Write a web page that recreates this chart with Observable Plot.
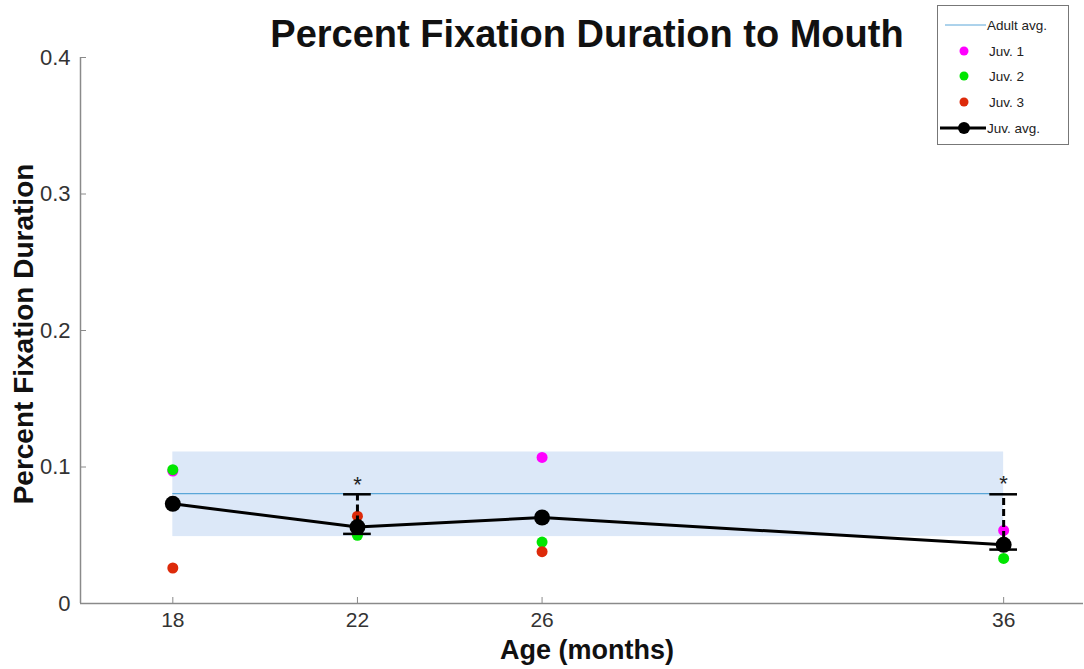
<!DOCTYPE html>
<html>
<head>
<meta charset="utf-8">
<script src="https://cdn.jsdelivr.net/npm/d3@7"></script>
<script src="https://cdn.jsdelivr.net/npm/@observablehq/plot@0.6"></script>
<style>
  html, body { margin: 0; padding: 0; background: #fff; }
  #chart { position: relative; width: 1084px; height: 669px; }
</style>
</head>
<body>
<div id="chart"></div>
<script>
// ---- data ----
const ages = [18, 22, 26, 36];
const juv1 = [0.097, 0.054, 0.107, 0.0535];
const juv2 = [0.098, 0.050, 0.045, 0.033];
const juv3 = [0.026, 0.064, 0.038, 0.0425];
const juvAvg = [0.073, 0.056, 0.063, 0.043];
const errLow = [null, 0.051, null, 0.0395];
const errHigh = [null, 0.080, null, 0.080];
const adultAvg = 0.0805;
const adultLow = 0.049;
const adultHigh = 0.111;
const sigAges = [22, 36];
const sigY = [0.0915, 0.092];
const yTicks = [0, 0.1, 0.2, 0.3, 0.4];
const xTicks = [18, 22, 26, 36];
const seriesNames = ["Adult avg.", "Juv. 1", "Juv. 2", "Juv. 3", "Juv. avg."];
const titleText = "Percent Fixation Duration to Mouth";
const xLabel = "Age (months)";
const yLabel = "Percent Fixation Duration";
const colors = {j1: "#ff00ff", j2: "#00e600", j3: "#dd2a0a", band: "#dce8f8", adult: "#5aa6d8"};

const pts = (vals) => ages.map((a, i) => ({age: a, v: vals[i]}));
const avgRows = pts(juvAvg);
const errRows = ages.map((a, i) => ({age: a, lo: errLow[i], hi: errHigh[i]})).filter(d => d.lo != null);
const capHalf = 0.3;
const font = "Liberation Sans, Arial, Helvetica, sans-serif";

const plot = Plot.plot({
  width: 1084,
  height: 669,
  marginLeft: 80,
  marginRight: 1,
  marginTop: 57,
  marginBottom: 66,
  style: {fontFamily: font, background: "#fff"},
  x: {domain: [16, 37.73], ticks: xTicks},
  y: {domain: [0, 0.4], ticks: yTicks},
  marks: [
    // adult band
    Plot.rectY([{x1: ages[0], x2: ages[ages.length - 1]}], {x1: "x1", x2: "x2", y1: adultLow, y2: adultHigh, fill: colors.band}),
    Plot.ruleY([adultAvg], {x1: ages[0], x2: ages[ages.length - 1], stroke: colors.adult, strokeWidth: 1.2}),
    // individual juveniles
    Plot.dot(pts(juv1), {x: "age", y: "v", r: 5.5, fill: colors.j1}),
    Plot.dot(pts(juv2), {x: "age", y: "v", r: 5.5, fill: colors.j2}),
    Plot.dot(pts(juv3), {x: "age", y: "v", r: 5.5, fill: colors.j3}),
    // juvenile average
    Plot.line(avgRows, {x: "age", y: "v", stroke: "#000", strokeWidth: 3}),
    Plot.dot(avgRows, {x: "age", y: "v", r: 8, fill: "#000"}),
    // error bars
    Plot.ruleX(errRows, {x: "age", y1: "lo", y2: "hi", stroke: "#000", strokeWidth: 3, strokeDasharray: "7,4"}),
    Plot.ruleY(errRows, {y: "hi", x1: d => d.age - capHalf, x2: d => d.age + capHalf, stroke: "#000", strokeWidth: 2.5}),
    Plot.ruleY(errRows, {y: "lo", x1: d => d.age - capHalf, x2: d => d.age + capHalf, stroke: "#000", strokeWidth: 2.5}),
    // significance
    Plot.text(sigAges.map((a, i) => ({age: a, v: sigY[i]})), {x: "age", y: "v", text: () => "*", fontSize: 22, fill: "#222", dy: 6}),
    // axes
    Plot.ruleX([16], {y1: 0, y2: 0.4, stroke: "#8a8a8a", strokeWidth: 1.5}),
    Plot.ruleY([0], {stroke: "#8a8a8a", strokeWidth: 1.5}),
    Plot.axisY({ticks: yTicks, tickSize: -6, tickPadding: 16, stroke: "#8a8a8a", fontSize: 22, fill: "#333", tickFormat: d => d === 0 ? "0" : d.toFixed(1), label: null}),
    Plot.axisX({ticks: xTicks, tickSize: -6, tickPadding: 15, stroke: "#8a8a8a", fontSize: 21, fill: "#333", label: null})
  ]
});

document.getElementById("chart").appendChild(plot);

const svg = d3.select(plot);
// titles
svg.append("text").attr("x", 587).attr("y", 47).attr("text-anchor", "middle")
  .attr("font-family", font).attr("font-size", 38).attr("font-weight", "bold").attr("fill", "#111").text(titleText);
svg.append("text").attr("x", 587).attr("y", 659).attr("text-anchor", "middle")
  .attr("font-family", font).attr("font-size", 27).attr("font-weight", "bold").attr("fill", "#111").text(xLabel);
svg.append("text").attr("transform", "translate(33,334) rotate(-90)").attr("text-anchor", "middle")
  .attr("font-family", font).attr("font-size", 28).attr("font-weight", "bold").attr("fill", "#111").text(yLabel);

// legend
const lg = svg.append("g").attr("transform", "translate(937,5)").attr("font-family", font);
lg.append("rect").attr("x", 0.5).attr("y", 0.5).attr("width", 131).attr("height", 139)
  .attr("fill", "#fff").attr("stroke", "#777").attr("stroke-width", 1);
const rowY = [20, 46, 71, 97, 123];
const lx = 27;
seriesNames.forEach((name, i) => {
  const y = rowY[i];
  if (i === 0) {
    lg.append("line").attr("x1", 8).attr("x2", 49).attr("y1", y).attr("y2", y).attr("stroke", colors.adult).attr("stroke-width", 1);
  } else if (i === 4) {
    lg.append("line").attr("x1", 3).attr("x2", 49).attr("y1", y).attr("y2", y).attr("stroke", "#000").attr("stroke-width", 3);
    lg.append("circle").attr("cx", lx).attr("cy", y).attr("r", 6).attr("fill", "#000");
  } else {
    const c = [null, colors.j1, colors.j2, colors.j3][i];
    lg.append("circle").attr("cx", lx).attr("cy", y).attr("r", 4.5).attr("fill", c);
  }
  lg.append("text").attr("x", i === 0 || i === 4 ? 50 : 52).attr("y", y).attr("dy", "0.35em")
    .attr("text-anchor", "start").attr("font-size", 13.5).attr("fill", "#222").text(name);
});
</script>
</body>
</html>
